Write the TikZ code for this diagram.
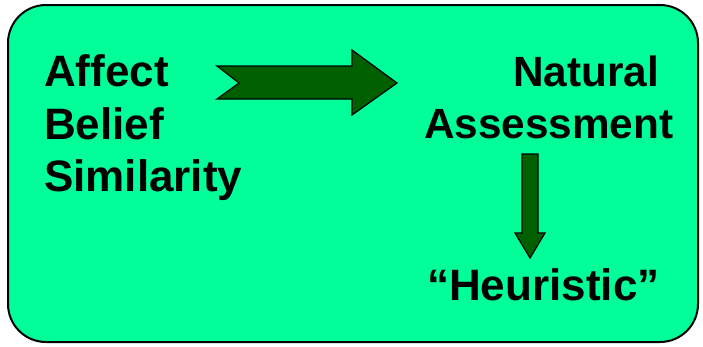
\documentclass[tikz,border=0pt]{standalone}
\usepackage{fontspec}
\setmainfont{Liberation Sans}
\definecolor{bggreen}{RGB}{0,255,153}
\definecolor{arrgreen}{RGB}{0,96,0}
\begin{document}
\begin{tikzpicture}[x=1pt,y=-1pt,
  lbl/.style={inner sep=0pt,font=\fontsize{44}{52}\selectfont\bfseries},
  lblr/.style={inner sep=0pt,font=\fontsize{42.3}{50}\selectfont\bfseries},
  blockarrow/.style={fill=arrgreen,draw=black,line width=1.2pt,line join=miter}]
\useasboundingbox (0,0) rectangle (703,346);
\draw[fill=bggreen,line width=2pt,rounded corners=38pt] (8,5) rectangle (698,342);
\node[lbl,anchor=base west] (affect) at (44,86) {Affect};
\node[lbl,anchor=base west] (belief) at (44,139) {Belief};
\node[lbl,anchor=base west] (similarity) at (44,191) {Similarity};
\node[lblr,anchor=base east] (natural) at (659,86) {Natural};
\node[lblr,anchor=base west] (assessment) at (424,138) {Assessment};
\node[lbl,anchor=base west] (heuristic) at (427,300) {“Heuristic”};
\draw[blockarrow] (217,66) -- (352,66) -- (352,50) -- (397,83) -- (352,115) -- (352,99) -- (217,99) -- (239,83) -- cycle;
\draw[blockarrow] (522,154) -- (538,154) -- (538,233) -- (545,233) -- (530,258) -- (515,233) -- (522,233) -- cycle;
\end{tikzpicture}
\end{document}
